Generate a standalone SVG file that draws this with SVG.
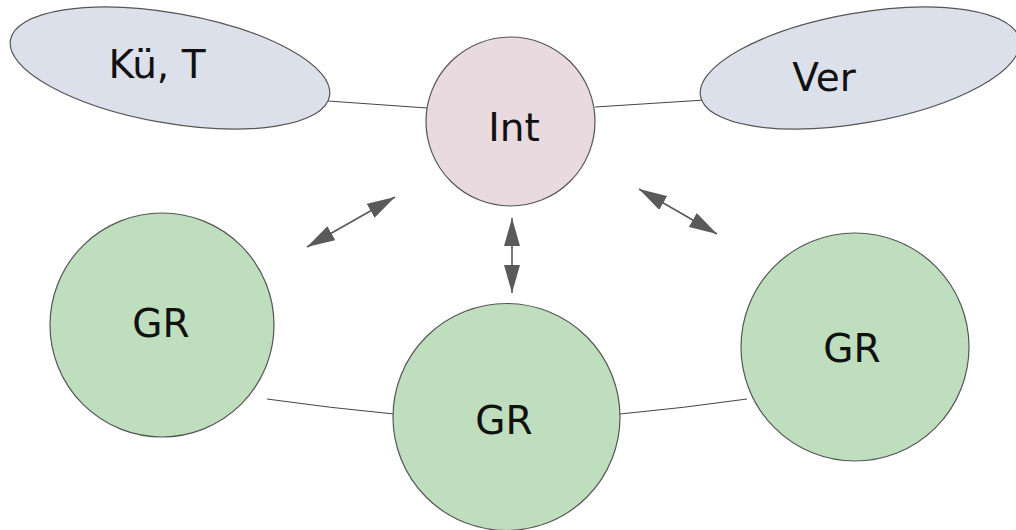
<svg xmlns="http://www.w3.org/2000/svg" width="1016" height="530" viewBox="0 0 1016 530">
<style>
.lbl{font-family:"DejaVu Sans",Verdana,sans-serif;font-size:39px;fill:#111;text-anchor:middle}
.ell{fill:#dce0ea;stroke:#555;stroke-width:1.2}
.int{fill:#e8dadf;stroke:#555;stroke-width:1.2}
.gr{fill:#bfdebe;stroke:#555;stroke-width:1.2}
.ln{stroke:#444;stroke-width:1;fill:none}
.arr{stroke:#5a5a5a;stroke-width:1.6;fill:none;marker-start:url(#ah);marker-end:url(#ah)}
</style>
<defs>
<marker id="ah" markerUnits="userSpaceOnUse" markerWidth="28" markerHeight="16" refX="28" refY="8" orient="auto-start-reverse">
<path d="M0,0 L28,8 L0,16 z" fill="#5a5a5a"/>
</marker>
</defs>
<rect width="1016" height="530" fill="#fff"/>
<g id="connectors">
<line class="ln" x1="328" y1="101" x2="427" y2="108"/>
<line class="ln" x1="595" y1="107" x2="705" y2="100"/>
<path class="ln" d="M267,399 Q330,408 394,414"/>
<path class="ln" d="M620,414 Q684,408 747,399"/>
<line class="arr" x1="307" y1="247" x2="395" y2="197"/>
<line class="arr" x1="512" y1="218" x2="512" y2="293"/>
<line class="arr" x1="639" y1="189" x2="717" y2="234"/>
</g>
<g id="kue">
<ellipse class="ell" cx="170" cy="68" rx="162" ry="55" transform="rotate(10 170 68)"/>
<text class="lbl" x="157" y="78">Kü, T</text>
</g>
<g id="ver">
<ellipse class="ell" cx="860" cy="68" rx="162" ry="55" transform="rotate(-10 860 68)"/>
<text class="lbl" x="824" y="91">Ver</text>
</g>
<g id="int">
<circle class="int" cx="510.5" cy="121.5" r="84.5"/>
<text class="lbl" x="514" y="141">Int</text>
</g>
<g id="gr1">
<circle class="gr" cx="162" cy="325" r="112"/>
<text class="lbl" x="161" y="337">GR</text>
</g>
<g id="gr2">
<circle class="gr" cx="506.5" cy="417" r="113.5"/>
<text class="lbl" x="504" y="434">GR</text>
</g>
<g id="gr3">
<circle class="gr" cx="855" cy="347" r="114"/>
<text class="lbl" x="852" y="362">GR</text>
</g>
</svg>
